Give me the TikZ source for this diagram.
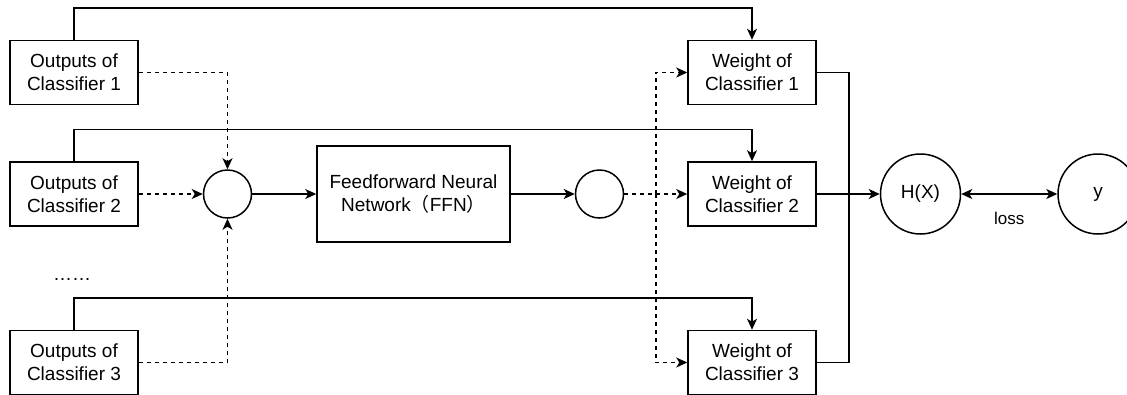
\documentclass[tikz,border=0pt]{standalone}
\usepackage{fontspec}
\setmainfont{Liberation Sans}
\newfontfamily\cjk{Noto Sans CJK SC}
\usetikzlibrary{arrows.meta,positioning}

\begin{document}
\begin{tikzpicture}[
  x=1pt, y=1pt,
  node distance=56pt and 64pt,
  box/.style={draw, line width=1.5pt, align=center, minimum width=128pt,
              minimum height=64pt, inner sep=2pt, font=\fontsize{19}{23}\selectfont},
  dot/.style={draw, circle, line width=1.5pt, minimum size=48pt, inner sep=0pt},
  ball/.style={draw, circle, line width=1.5pt, minimum size=80pt, inner sep=0pt,
               font=\fontsize{19}{23}\selectfont},
  arr/.style={-{Stealth[length=11pt, width=10pt, inset=3pt]}, line width=1.5pt},
  darr/.style={arr, dash pattern=on 4pt off 4pt}
]
\useasboundingbox (0,0) rectangle (1127,-394);
% inputs
\node[box] (out2) at (74,-194) {Outputs of\\Classifier 2};
\node[box, above=of out2] (out1) {Outputs of\\Classifier 1};
\node[box, below=103pt of out2] (out3) {Outputs of\\Classifier 3};
\node[font=\fontsize{19}{23}\selectfont, anchor=base] (dots) at (72,-280) {……};
% middle
\node[dot, right=of out2] (sum1) {};
\node[box, right=of sum1, minimum width=193pt, minimum height=96pt] (ffn)
  {Feedforward Neural\\Network{\cjk （}FFN{\cjk ）}};
\node[dot, right=of ffn] (sum2) {};
% weights
\node[box, right=63pt of sum2] (w2) {Weight of\\Classifier 2};
\node[box, above=of w2] (w1) {Weight of\\Classifier 1};
\node[box, below=103pt of w2] (w3) {Weight of\\Classifier 3};
\node[ball, right=63pt of w2] (hx) {H(X)};
\node[ball, right=96pt of hx] (yy) {y};

\draw[arr] (out1.north) -- ++(0,32) -| (w1.north);
\draw[arr] (out2.north) -- ++(0,32) -| (w2.north);
\draw[arr] (out3.north) -- ++(0,32) -| (w3.north);
\draw[darr] (out1.east) -| (sum1.north);
\draw[darr] (out2.east) -- (sum1.west);
\draw[darr] (out3.east) -| (sum1.south);
\draw[arr] (sum1) -- (ffn);
\draw[arr] (ffn) -- (sum2);
\draw[darr] (sum2) -- (w2);
\path (sum2.east) -- (w2.west) coordinate[pos=0.5] (br);
\draw[darr] (br) |- (w1.west);
\draw[darr] (br) |- (w3.west);
\draw[line width=1.5pt] (w1.east) -- ++(32,0) |- (w3.east);
\draw[arr] (w2.east) -- (hx.west);
\draw[arr, {Stealth[length=11pt, width=10pt, inset=3pt]}-{Stealth[length=11pt, width=10pt, inset=3pt]}]
  (hx) -- (yy) node[midway, below=14pt, font=\fontsize{17}{20}\selectfont] {loss};
\end{tikzpicture}
\end{document}
